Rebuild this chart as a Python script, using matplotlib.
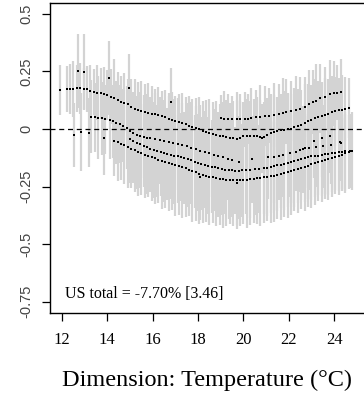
import numpy as np
import matplotlib
matplotlib.use("Agg")
import matplotlib.pyplot as plt

# ===================== DATA =====================
# each row: (temperature, estimate, half-width of the grey interval)

# upper curve: starts at 12, dips near 19-20, rises again
s1 = [(11.9, 0.169, 0.11), (12.2, 0.172, 0.10), (12.35, 0.174, 0.11), (12.5, 0.174, 0.12),
      (12.65, 0.176, 0.10), (12.8, 0.177, 0.11), (12.95, 0.175, 0.09), (13.1, 0.172, 0.10),
      (13.25, 0.167, 0.11), (13.4, 0.162, 0.10), (13.55, 0.158, 0.12), (13.7, 0.155, 0.11),
      (13.85, 0.151, 0.12), (14.0, 0.148, 0.11), (14.15, 0.141, 0.12), (14.3, 0.133, 0.17),
      (14.45, 0.126, 0.12), (14.6, 0.119, 0.11), (14.75, 0.113, 0.13), (14.9, 0.107, 0.11),
      (15.05, 0.097, 0.12), (15.2, 0.088, 0.13), (15.35, 0.083, 0.12), (15.5, 0.078, 0.13),
      (15.65, 0.074, 0.12), (15.8, 0.070, 0.13), (15.95, 0.067, 0.12), (16.1, 0.064, 0.11),
      (16.25, 0.061, 0.12), (16.4, 0.056, 0.11), (16.55, 0.050, 0.12), (16.7, 0.045, 0.11),
      (16.85, 0.039, 0.12), (17.0, 0.035, 0.11), (17.15, 0.030, 0.12), (17.3, 0.025, 0.13),
      (17.45, 0.020, 0.12), (17.6, 0.015, 0.13), (17.75, 0.009, 0.12), (17.9, 0.003, 0.13),
      (18.05, -0.002, 0.14), (18.2, -0.008, 0.13), (18.35, -0.014, 0.14), (18.5, -0.019, 0.15),
      (18.65, -0.023, 0.14), (18.8, -0.027, 0.15), (18.95, -0.030, 0.14), (19.1, -0.032, 0.15),
      (19.25, -0.034, 0.16), (19.4, -0.037, 0.15), (19.55, -0.040, 0.16), (19.7, -0.043, 0.17),
      (19.85, -0.040, 0.16), (20.0, -0.032, 0.15), (20.15, -0.030, 0.16), (20.3, -0.030, 0.15),
      (20.45, -0.030, 0.16), (20.6, -0.032, 0.17), (20.75, -0.035, 0.16), (20.9, -0.033, 0.15),
      (21.05, -0.025, 0.16), (21.2, -0.017, 0.17), (21.35, -0.012, 0.16), (21.5, -0.009, 0.15),
      (21.65, -0.006, 0.16), (21.8, -0.004, 0.17), (21.95, -0.002, 0.16), (22.1, 0.001, 0.15),
      (22.25, 0.007, 0.17), (22.4, 0.013, 0.16), (22.55, 0.019, 0.15), (22.7, 0.026, 0.17),
      (22.85, 0.034, 0.16), (23.0, 0.041, 0.15), (23.15, 0.046, 0.17), (23.3, 0.050, 0.16),
      (23.45, 0.055, 0.15), (23.6, 0.062, 0.16), (23.75, 0.067, 0.15), (23.9, 0.072, 0.16),
      (24.05, 0.077, 0.15), (24.2, 0.081, 0.14), (24.35, 0.084, 0.15), (24.5, 0.087, 0.14),
      (24.65, 0.090, 0.13)]

# right-hand upper curve
s2 = [(19.0, 0.046, 0.10), (19.15, 0.045, 0.12), (19.3, 0.044, 0.11), (19.5, 0.042, 0.10),
      (19.7, 0.042, 0.12), (19.85, 0.042, 0.11), (20.05, 0.042, 0.12), (20.2, 0.044, 0.11),
      (20.35, 0.047, 0.13), (20.55, 0.050, 0.12), (20.75, 0.053, 0.14), (20.95, 0.055, 0.13),
      (21.15, 0.058, 0.12), (21.35, 0.061, 0.14), (21.55, 0.066, 0.13), (21.75, 0.071, 0.15),
      (21.9, 0.075, 0.14), (22.1, 0.078, 0.13), (22.3, 0.082, 0.15), (22.5, 0.085, 0.14),
      (22.7, 0.095, 0.13), (22.9, 0.108, 0.15), (23.05, 0.117, 0.14), (23.2, 0.122, 0.16),
      (23.4, 0.133, 0.15), (23.6, 0.140, 0.13), (23.8, 0.150, 0.15), (24.0, 0.155, 0.14),
      (24.15, 0.158, 0.12), (24.3, 0.162, 0.14)]

# middle curve
s3 = [(13.3, 0.054, 0.16), (13.45, 0.051, 0.15), (13.6, 0.049, 0.18), (13.75, 0.046, 0.16),
      (13.9, 0.043, 0.15), (14.1, 0.039, 0.17), (14.25, 0.033, 0.16), (14.4, 0.027, 0.18),
      (14.55, 0.022, 0.17), (14.7, 0.015, 0.16), (14.85, 0.006, 0.18), (15.0, -0.008, 0.19),
      (15.15, -0.018, 0.18), (15.3, -0.026, 0.17), (15.45, -0.030, 0.19), (15.6, -0.034, 0.18),
      (15.75, -0.037, 0.19), (15.9, -0.040, 0.18), (16.1, -0.045, 0.20), (16.3, -0.049, 0.19),
      (16.5, -0.053, 0.18), (16.7, -0.057, 0.20), (16.9, -0.060, 0.19), (17.1, -0.064, 0.20),
      (17.3, -0.069, 0.18), (17.5, -0.075, 0.19), (17.7, -0.081, 0.20), (17.9, -0.088, 0.19),
      (18.1, -0.094, 0.20), (18.3, -0.100, 0.18), (18.5, -0.106, 0.19), (18.7, -0.112, 0.20),
      (18.9, -0.117, 0.19), (19.1, -0.122, 0.20), (19.3, -0.128, 0.18), (19.5, -0.135, 0.19),
      (19.8, -0.142, 0.20), (20.4, -0.132, 0.19), (21.1, -0.122, 0.18), (21.35, -0.120, 0.20),
      (21.55, -0.117, 0.19), (21.75, -0.113, 0.18), (22.05, -0.106, 0.19), (22.3, -0.099, 0.17),
      (22.5, -0.093, 0.18), (22.65, -0.088, 0.19), (22.9, -0.084, 0.18), (23.2, -0.080, 0.17),
      (23.5, -0.075, 0.18), (23.85, -0.068, 0.17), (24.3, -0.060, 0.16)]

# lower-middle curve
s5 = [(15.0, -0.045, 0.19), (15.15, -0.053, 0.18), (15.3, -0.060, 0.20), (15.45, -0.066, 0.19),
      (15.6, -0.072, 0.18), (15.75, -0.080, 0.20), (15.9, -0.085, 0.19), (16.05, -0.091, 0.21),
      (16.2, -0.096, 0.20), (16.35, -0.101, 0.19), (16.5, -0.105, 0.21), (16.65, -0.109, 0.20),
      (16.8, -0.112, 0.19), (16.95, -0.115, 0.21), (17.1, -0.119, 0.20), (17.25, -0.122, 0.19),
      (17.4, -0.126, 0.20), (17.55, -0.130, 0.21), (17.7, -0.135, 0.19), (17.85, -0.141, 0.20),
      (18.0, -0.146, 0.21), (18.15, -0.150, 0.20), (18.3, -0.155, 0.19), (18.45, -0.159, 0.21),
      (18.6, -0.163, 0.20), (18.75, -0.167, 0.19), (18.9, -0.170, 0.21), (19.05, -0.174, 0.20),
      (19.2, -0.178, 0.19), (19.35, -0.179, 0.21), (19.5, -0.180, 0.20), (19.65, -0.181, 0.19),
      (19.8, -0.181, 0.21), (19.95, -0.180, 0.20), (20.1, -0.178, 0.19), (20.3, -0.176, 0.21),
      (20.5, -0.175, 0.20), (20.7, -0.174, 0.19), (20.9, -0.171, 0.20), (21.05, -0.168, 0.21),
      (21.2, -0.165, 0.20), (21.35, -0.161, 0.19), (21.5, -0.158, 0.20), (21.65, -0.155, 0.19),
      (21.8, -0.151, 0.20), (21.95, -0.147, 0.19), (22.1, -0.143, 0.18), (22.25, -0.137, 0.20),
      (22.4, -0.133, 0.19), (22.55, -0.129, 0.18), (22.7, -0.125, 0.19), (22.85, -0.122, 0.18),
      (23.0, -0.119, 0.19), (23.15, -0.117, 0.18), (23.3, -0.115, 0.17), (23.45, -0.112, 0.18),
      (23.6, -0.110, 0.17), (23.75, -0.107, 0.18), (23.9, -0.105, 0.17), (24.05, -0.103, 0.16),
      (24.2, -0.101, 0.17), (24.35, -0.099, 0.16), (24.5, -0.097, 0.17), (24.7, -0.094, 0.16)]

# bottom curve
s4 = [(12.55, -0.026, 0.14), (12.85, -0.012, 0.17), (13.2, -0.016, 0.15), (13.85, -0.038, 0.16),
      (14.3, -0.052, 0.15), (14.45, -0.057, 0.17), (14.6, -0.063, 0.16), (14.75, -0.070, 0.17),
      (14.9, -0.077, 0.18), (15.05, -0.085, 0.17), (15.2, -0.093, 0.18), (15.35, -0.100, 0.19),
      (15.5, -0.106, 0.18), (15.65, -0.111, 0.19), (15.8, -0.116, 0.18), (15.95, -0.121, 0.19),
      (16.1, -0.127, 0.20), (16.25, -0.133, 0.19), (16.4, -0.138, 0.21), (16.55, -0.143, 0.20),
      (16.7, -0.147, 0.21), (16.85, -0.152, 0.20), (17.0, -0.157, 0.22), (17.15, -0.162, 0.21),
      (17.3, -0.166, 0.22), (17.45, -0.171, 0.21), (17.6, -0.176, 0.20), (17.75, -0.182, 0.22),
      (17.9, -0.188, 0.21), (18.05, -0.194, 0.22), (18.2, -0.199, 0.21), (18.35, -0.203, 0.20),
      (18.5, -0.207, 0.21), (18.65, -0.210, 0.20), (18.8, -0.213, 0.21), (18.95, -0.216, 0.20),
      (19.1, -0.219, 0.21), (19.25, -0.221, 0.20), (19.4, -0.222, 0.19), (19.55, -0.222, 0.20),
      (19.7, -0.222, 0.21), (19.85, -0.221, 0.20), (20.0, -0.221, 0.19), (20.15, -0.220, 0.21),
      (20.3, -0.218, 0.20), (20.45, -0.216, 0.19), (20.6, -0.214, 0.20), (20.75, -0.212, 0.21),
      (20.9, -0.210, 0.20), (21.05, -0.208, 0.19), (21.2, -0.206, 0.20), (21.35, -0.204, 0.20),
      (21.5, -0.201, 0.19), (21.65, -0.197, 0.20), (21.8, -0.193, 0.19), (21.95, -0.188, 0.20),
      (22.1, -0.183, 0.19), (22.25, -0.178, 0.18), (22.4, -0.173, 0.19), (22.55, -0.168, 0.18),
      (22.7, -0.164, 0.19), (22.85, -0.159, 0.18), (23.0, -0.154, 0.19), (23.15, -0.149, 0.18),
      (23.3, -0.144, 0.17), (23.45, -0.138, 0.18), (23.6, -0.133, 0.17), (23.75, -0.129, 0.18),
      (23.9, -0.124, 0.17), (24.05, -0.120, 0.16), (24.2, -0.116, 0.17), (24.35, -0.111, 0.16),
      (24.5, -0.106, 0.17), (24.65, -0.100, 0.16), (24.8, -0.095, 0.17)]

# scattered single points
outliers = [(12.72, 0.252, 0.16), (12.98, 0.246, 0.165), (14.09, 0.220, 0.16),
            (14.96, 0.177, 0.15), (16.8, 0.117, 0.15), (20.82, -0.040, 0.15),
            (22.7, -0.084, 0.17), (23.1, -0.051, 0.16), (23.46, -0.040, 0.17),
            (23.83, -0.030, 0.16), (24.27, -0.055, 0.17), (18.1, -0.207, 0.19),
            (19.7, -0.236, 0.18)]

x_ticks = [12, 14, 16, 18, 20, 22, 24]
y_ticks = [0.5, 0.25, 0, -0.25, -0.5, -0.75]
y_ticklabels = ["0.5", "0.25", "0", "-0.25", "-0.5", "-0.75"]
note = "US total = -7.70% [3.46]"
x_title = "Dimension: Temperature (\u00b0C)"

# ===================== PLOT =====================
W, H = 364, 394
fig = plt.figure(figsize=(W / 100, H / 100), dpi=100)
ax = fig.add_axes([50 / W, 81 / H, 314 / W, 310 / H])

series = [s1, s2, s3, s5, s4, outliers]

for rows in series:
    xs, ys, es = np.array(rows).T
    ax.vlines(xs, ys - es, ys + es, colors="#d3d3d3", lw=1.6, zorder=1)

ax.axhline(0, color="black", lw=0.9, ls=(0, (4, 3)), zorder=2)

for rows in series:
    xs, ys, es = np.array(rows).T
    ax.plot(xs, ys, "s", ms=1.8, mew=0, color="black", zorder=3)

ax.set_xlim(11.47, 25.32)
ax.set_ylim(-0.7986, 0.547)
ax.set_xticks(x_ticks)
ax.set_xticklabels([str(t) for t in x_ticks], family="Liberation Serif", fontsize=12)
ax.set_yticks(y_ticks)
ax.set_yticklabels(y_ticklabels, family="Liberation Sans", fontsize=10.5,
                   rotation=90, va="center", color="#444444")
ax.tick_params(axis="both", direction="out", length=5.8, width=0.9)
ax.tick_params(axis="x", pad=8)
ax.tick_params(axis="y", pad=6)

ax.spines["right"].set_visible(False)
for s in ["left", "top", "bottom"]:
    ax.spines[s].set_linewidth(1.0)

ax.text(12.13, -0.733, note, family="Liberation Serif", fontsize=11.5,
        ha="left", va="baseline")
fig.text(207 / W, 1 - 386 / H, x_title, family="Liberation Serif", fontsize=17.5,
         ha="center", va="baseline")

fig.savefig("out.png", dpi=100)
